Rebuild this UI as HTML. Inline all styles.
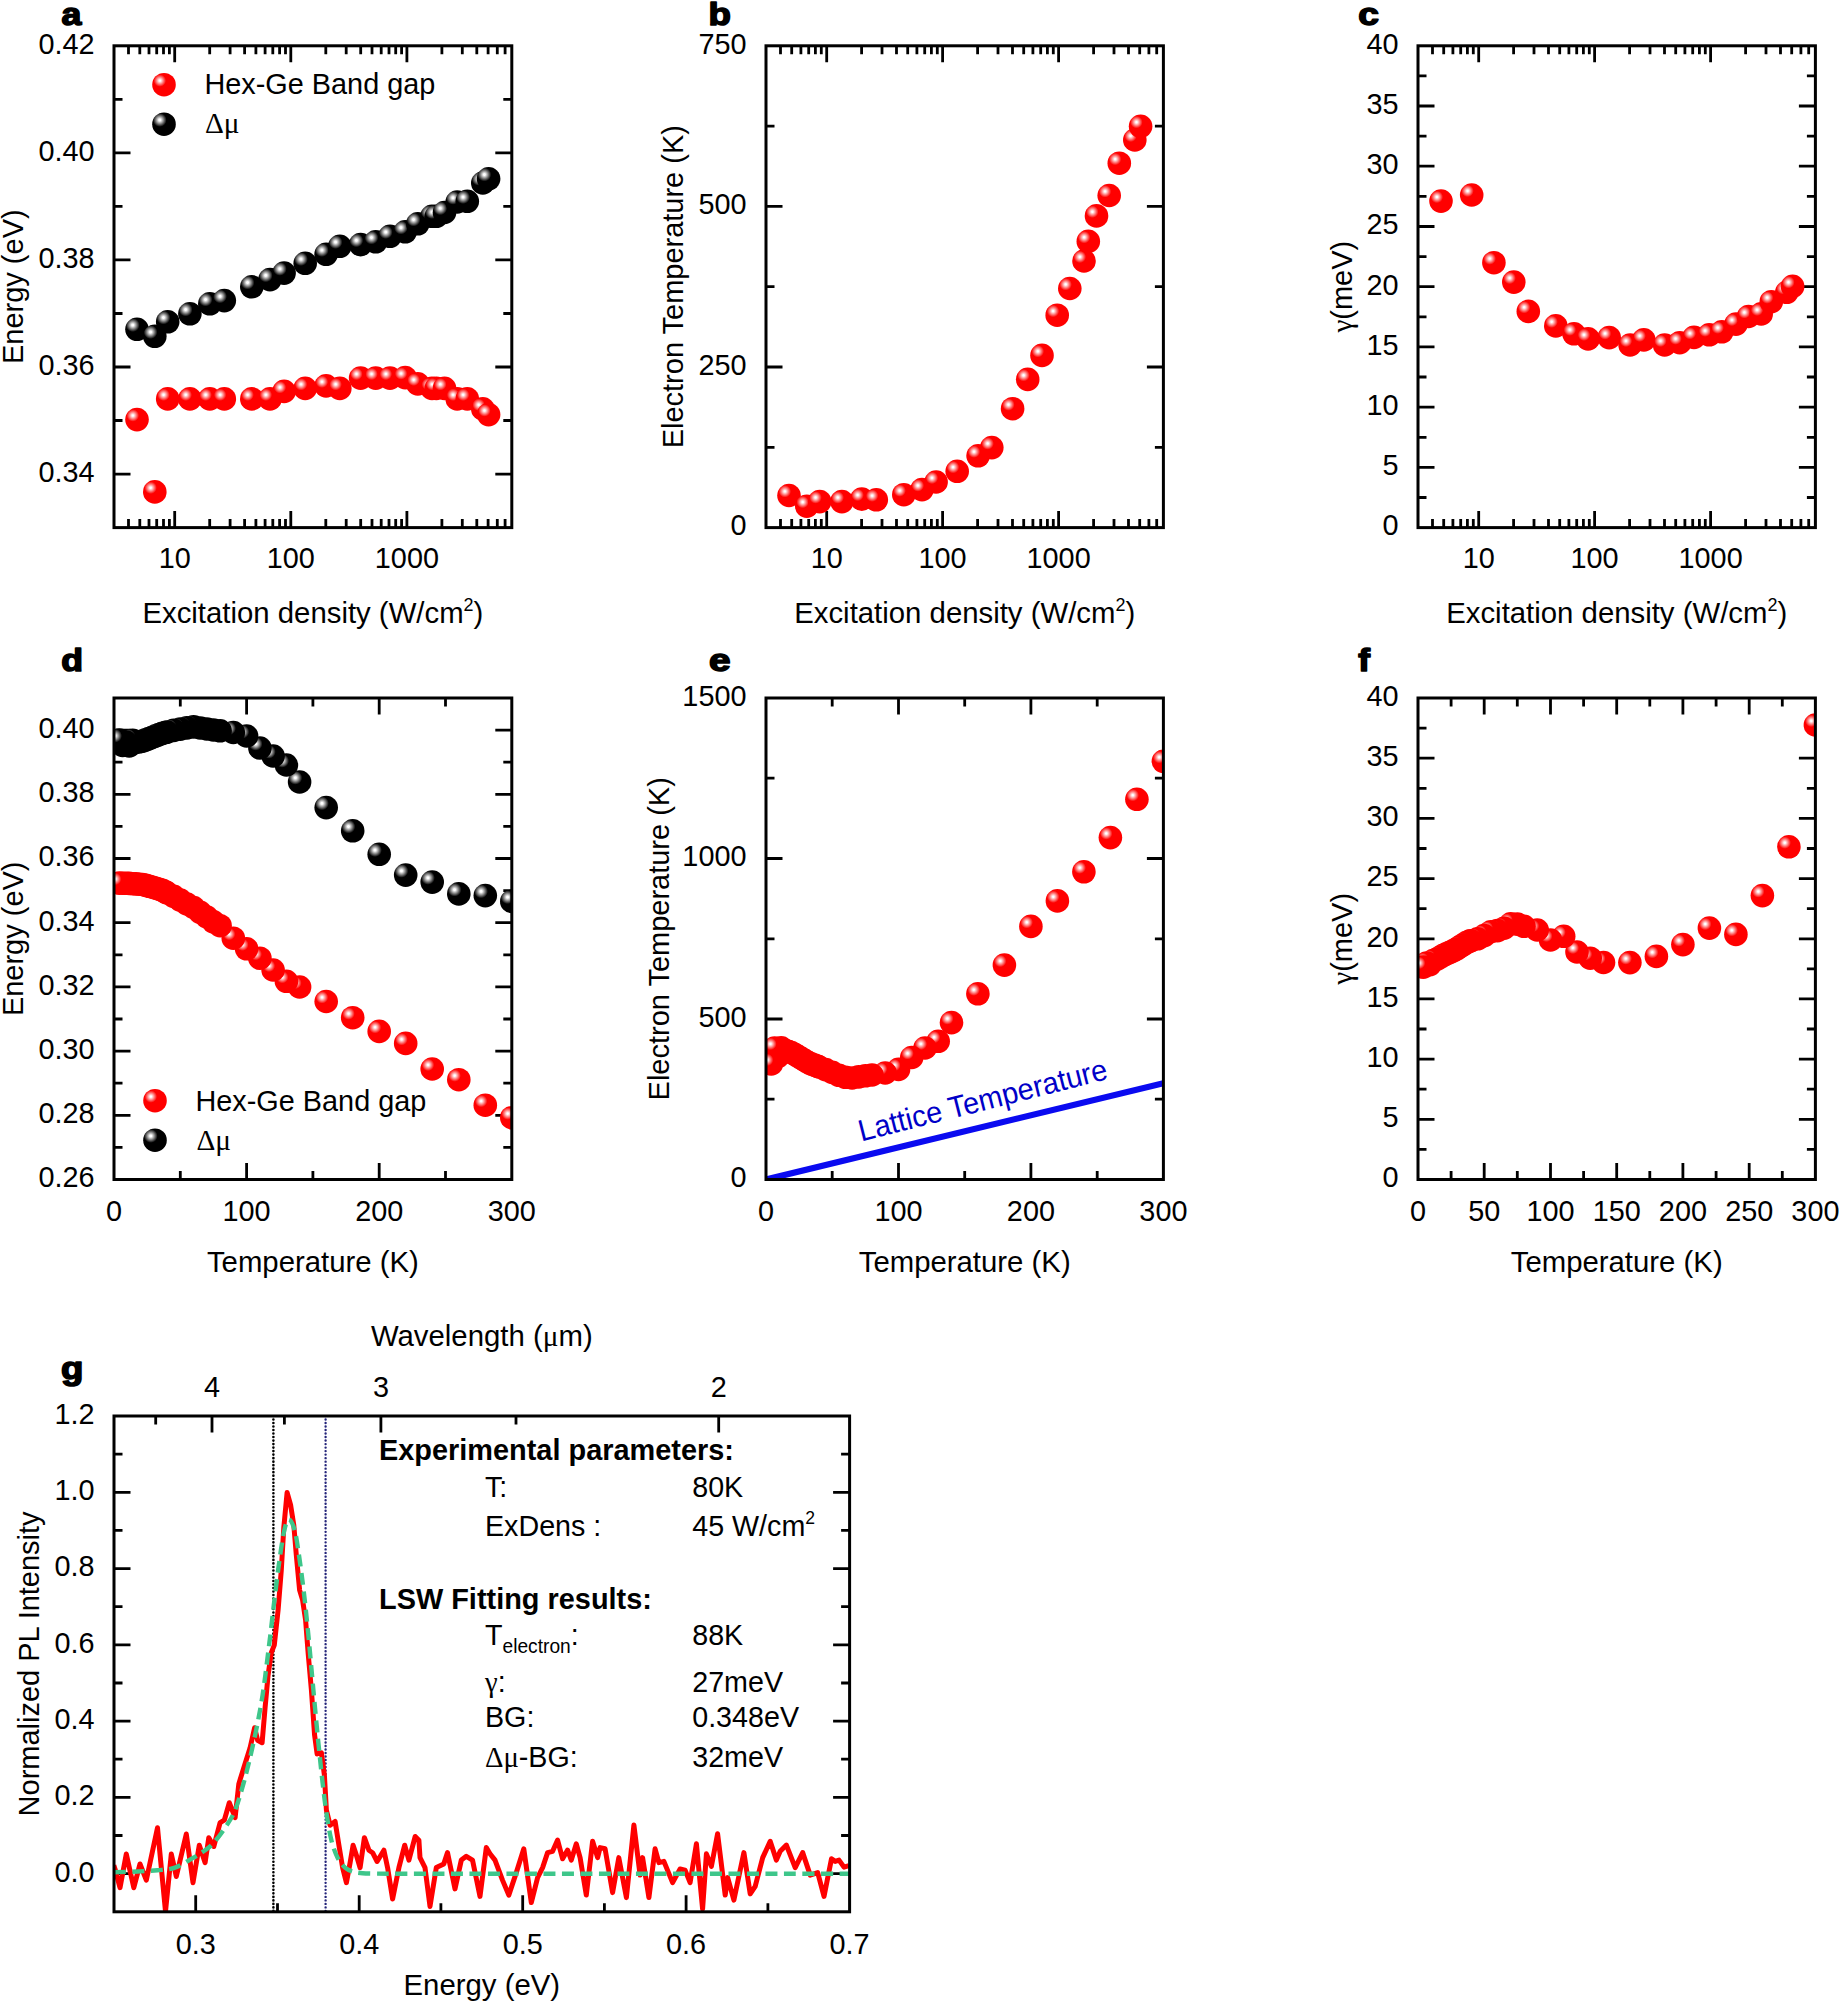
<!DOCTYPE html>
<html lang="en"><head><meta charset="utf-8"><title>Figure</title>
<style>html,body{margin:0;padding:0;background:#fff}svg{display:block}text{font-family:"Liberation Sans",Arial,Helvetica,sans-serif;font-size:30.2px;fill:#000}.sy{font-family:"Liberation Serif","DejaVu Serif",serif}.pl{font-family:"Liberation Sans",Arial,sans-serif;font-weight:bold;stroke:#000;stroke-width:1.5px;stroke-linejoin:round}</style></head><body>
<svg width="1839" height="2003" viewBox="0 0 1839 2003">
<defs><radialGradient id="rs" cx="0.325" cy="0.325" r="0.26"><stop offset="0" stop-color="#fff"/><stop offset="0.12" stop-color="#fff"/><stop offset="1" stop-color="#ff0000"/></radialGradient><radialGradient id="bs" cx="0.32" cy="0.32" r="0.29"><stop offset="0" stop-color="#fff"/><stop offset="0.14" stop-color="#fff"/><stop offset="1" stop-color="#000"/></radialGradient>
<clipPath id="c20"><rect x="114" y="698" width="397.8" height="481.5"/></clipPath>
<clipPath id="c21"><rect x="766" y="698" width="397.4" height="481.5"/></clipPath>
<clipPath id="c22"><rect x="1418" y="698" width="397.4" height="481.5"/></clipPath>
<clipPath id="cg"><rect x="114" y="1416" width="735.6" height="495.8"/></clipPath>
</defs>
<rect width="1839" height="2003" fill="#fff"/>
<path d="M174.7 527.6L174.7 511.1M174.7 45.8L174.7 62.3M290.8 527.6L290.8 511.1M290.8 45.8L290.8 62.3M406.9 527.6L406.9 511.1M406.9 45.8L406.9 62.3M128.5 527.6L128.5 519.1M128.5 45.8L128.5 54.3M139.8 527.6L139.8 519.1M139.8 45.8L139.8 54.3M149 527.6L149 519.1M149 45.8L149 54.3M156.7 527.6L156.7 519.1M156.7 45.8L156.7 54.3M163.5 527.6L163.5 519.1M163.5 45.8L163.5 54.3M169.4 527.6L169.4 519.1M169.4 45.8L169.4 54.3M209.7 527.6L209.7 519.1M209.7 45.8L209.7 54.3M230.1 527.6L230.1 519.1M230.1 45.8L230.1 54.3M244.6 527.6L244.6 519.1M244.6 45.8L244.6 54.3M255.9 527.6L255.9 519.1M255.9 45.8L255.9 54.3M265.1 527.6L265.1 519.1M265.1 45.8L265.1 54.3M272.8 527.6L272.8 519.1M272.8 45.8L272.8 54.3M279.6 527.6L279.6 519.1M279.6 45.8L279.6 54.3M285.5 527.6L285.5 519.1M285.5 45.8L285.5 54.3M325.8 527.6L325.8 519.1M325.8 45.8L325.8 54.3M346.2 527.6L346.2 519.1M346.2 45.8L346.2 54.3M360.7 527.6L360.7 519.1M360.7 45.8L360.7 54.3M372 527.6L372 519.1M372 45.8L372 54.3M381.2 527.6L381.2 519.1M381.2 45.8L381.2 54.3M389 527.6L389 519.1M389 45.8L389 54.3M395.7 527.6L395.7 519.1M395.7 45.8L395.7 54.3M401.6 527.6L401.6 519.1M401.6 45.8L401.6 54.3M441.9 527.6L441.9 519.1M441.9 45.8L441.9 54.3M462.3 527.6L462.3 519.1M462.3 45.8L462.3 54.3M476.8 527.6L476.8 519.1M476.8 45.8L476.8 54.3M488.1 527.6L488.1 519.1M488.1 45.8L488.1 54.3M497.3 527.6L497.3 519.1M497.3 45.8L497.3 54.3M505.1 527.6L505.1 519.1M505.1 45.8L505.1 54.3" stroke="#000" stroke-width="2.8" fill="none"/>
<path d="M114 474.1L130.5 474.1M511.8 474.1L495.3 474.1M114 367L130.5 367M511.8 367L495.3 367M114 259.9L130.5 259.9M511.8 259.9L495.3 259.9M114 152.9L130.5 152.9M511.8 152.9L495.3 152.9M114 420.5L122.5 420.5M511.8 420.5L503.3 420.5M114 313.5L122.5 313.5M511.8 313.5L503.3 313.5M114 206.4L122.5 206.4M511.8 206.4L503.3 206.4M114 99.3L122.5 99.3M511.8 99.3L503.3 99.3" stroke="#000" stroke-width="2.8" fill="none"/>
<text transform="translate(94.5 481.9) scale(0.955 1)" text-anchor="end">0.34</text>
<text transform="translate(94.5 374.8) scale(0.955 1)" text-anchor="end">0.36</text>
<text transform="translate(94.5 267.7) scale(0.955 1)" text-anchor="end">0.38</text>
<text transform="translate(94.5 160.7) scale(0.955 1)" text-anchor="end">0.40</text>
<text transform="translate(94.5 53.6) scale(0.955 1)" text-anchor="end">0.42</text>
<text transform="translate(22.5 286.7) rotate(-90) scale(0.954 1)" text-anchor="middle" style="font-size:30.4px">Energy (eV)</text>
<g fill="url(#bs)">
<circle cx="137" cy="329.3" r="11.8"/><circle cx="154.8" cy="336.3" r="11.8"/><circle cx="167.7" cy="321.8" r="11.8"/><circle cx="189.9" cy="313.8" r="11.8"/><circle cx="209.8" cy="303.8" r="11.8"/><circle cx="224.3" cy="300.6" r="11.8"/><circle cx="251.8" cy="286.8" r="11.8"/><circle cx="270" cy="279.6" r="11.8"/><circle cx="284.1" cy="273.1" r="11.8"/><circle cx="305.2" cy="263.3" r="11.8"/><circle cx="326.1" cy="254.3" r="11.8"/><circle cx="339.8" cy="246.3" r="11.8"/><circle cx="360.6" cy="244.6" r="11.8"/><circle cx="375.7" cy="241.8" r="11.8"/><circle cx="390" cy="236.3" r="11.8"/><circle cx="405.2" cy="231.8" r="11.8"/><circle cx="417.8" cy="223.8" r="11.8"/><circle cx="432" cy="216.3" r="11.8"/><circle cx="436.3" cy="216.3" r="11.8"/><circle cx="444.5" cy="212.5" r="11.8"/><circle cx="457.2" cy="202" r="11.8"/><circle cx="467.3" cy="201.3" r="11.8"/><circle cx="482.8" cy="183" r="11.8"/><circle cx="488.6" cy="178.8" r="11.8"/>
</g>
<g fill="url(#rs)">
<circle cx="137" cy="419.6" r="11.8"/><circle cx="154.8" cy="491.9" r="11.8"/><circle cx="167.7" cy="398.9" r="11.8"/><circle cx="189.9" cy="398.9" r="11.8"/><circle cx="209.8" cy="398.9" r="11.8"/><circle cx="224.3" cy="398.9" r="11.8"/><circle cx="251.8" cy="398.9" r="11.8"/><circle cx="270" cy="398.9" r="11.8"/><circle cx="284.1" cy="391.4" r="11.8"/><circle cx="305.2" cy="388.4" r="11.8"/><circle cx="326.1" cy="385.9" r="11.8"/><circle cx="339.8" cy="388.4" r="11.8"/><circle cx="360.6" cy="378.1" r="11.8"/><circle cx="375.7" cy="378.1" r="11.8"/><circle cx="390" cy="378.1" r="11.8"/><circle cx="405.2" cy="377.6" r="11.8"/><circle cx="417.8" cy="383.9" r="11.8"/><circle cx="432" cy="388.4" r="11.8"/><circle cx="436.3" cy="388.4" r="11.8"/><circle cx="444.5" cy="388.4" r="11.8"/><circle cx="457.2" cy="398.9" r="11.8"/><circle cx="467.3" cy="398.9" r="11.8"/><circle cx="482.8" cy="408.9" r="11.8"/><circle cx="488.6" cy="414.6" r="11.8"/>
</g>
<rect x="114" y="45.8" width="397.8" height="481.8" fill="none" stroke="#000" stroke-width="3"/>
<text transform="translate(174.7 568.2) scale(0.955 1)" text-anchor="middle">10</text>
<text transform="translate(290.8 568.2) scale(0.955 1)" text-anchor="middle">100</text>
<text transform="translate(406.9 568.2) scale(0.955 1)" text-anchor="middle">1000</text>
<text transform="translate(312.9 622.8) scale(0.972 1)" text-anchor="middle">Excitation density (W/cm<tspan style="font-size:18.5px" dy="-11.5">2</tspan><tspan dy="11.5">)</tspan></text>
<path d="M826.7 527.6L826.7 511.1M826.7 45.8L826.7 62.3M942.6 527.6L942.6 511.1M942.6 45.8L942.6 62.3M1058.6 527.6L1058.6 511.1M1058.6 45.8L1058.6 62.3M780.5 527.6L780.5 519.1M780.5 45.8L780.5 54.3M791.7 527.6L791.7 519.1M791.7 45.8L791.7 54.3M800.9 527.6L800.9 519.1M800.9 45.8L800.9 54.3M808.7 527.6L808.7 519.1M808.7 45.8L808.7 54.3M815.4 527.6L815.4 519.1M815.4 45.8L815.4 54.3M821.3 527.6L821.3 519.1M821.3 45.8L821.3 54.3M861.6 527.6L861.6 519.1M861.6 45.8L861.6 54.3M882 527.6L882 519.1M882 45.8L882 54.3M896.5 527.6L896.5 519.1M896.5 45.8L896.5 54.3M907.7 527.6L907.7 519.1M907.7 45.8L907.7 54.3M916.9 527.6L916.9 519.1M916.9 45.8L916.9 54.3M924.7 527.6L924.7 519.1M924.7 45.8L924.7 54.3M931.4 527.6L931.4 519.1M931.4 45.8L931.4 54.3M937.3 527.6L937.3 519.1M937.3 45.8L937.3 54.3M977.6 527.6L977.6 519.1M977.6 45.8L977.6 54.3M998 527.6L998 519.1M998 45.8L998 54.3M1012.5 527.6L1012.5 519.1M1012.5 45.8L1012.5 54.3M1023.7 527.6L1023.7 519.1M1023.7 45.8L1023.7 54.3M1032.9 527.6L1032.9 519.1M1032.9 45.8L1032.9 54.3M1040.7 527.6L1040.7 519.1M1040.7 45.8L1040.7 54.3M1047.4 527.6L1047.4 519.1M1047.4 45.8L1047.4 54.3M1053.3 527.6L1053.3 519.1M1053.3 45.8L1053.3 54.3M1093.6 527.6L1093.6 519.1M1093.6 45.8L1093.6 54.3M1114 527.6L1114 519.1M1114 45.8L1114 54.3M1128.5 527.6L1128.5 519.1M1128.5 45.8L1128.5 54.3M1139.7 527.6L1139.7 519.1M1139.7 45.8L1139.7 54.3M1148.9 527.6L1148.9 519.1M1148.9 45.8L1148.9 54.3M1156.7 527.6L1156.7 519.1M1156.7 45.8L1156.7 54.3" stroke="#000" stroke-width="2.8" fill="none"/>
<path d="M766 367L782.5 367M1163.4 367L1146.9 367M766 206.4L782.5 206.4M1163.4 206.4L1146.9 206.4M766 447.3L774.5 447.3M1163.4 447.3L1154.9 447.3M766 286.7L774.5 286.7M1163.4 286.7L1154.9 286.7M766 126.1L774.5 126.1M1163.4 126.1L1154.9 126.1" stroke="#000" stroke-width="2.8" fill="none"/>
<text transform="translate(746.5 535.4) scale(0.955 1)" text-anchor="end">0</text>
<text transform="translate(746.5 374.8) scale(0.955 1)" text-anchor="end">250</text>
<text transform="translate(746.5 214.2) scale(0.955 1)" text-anchor="end">500</text>
<text transform="translate(746.5 53.6) scale(0.955 1)" text-anchor="end">750</text>
<text transform="translate(682.5 286.7) rotate(-90) scale(0.954 1)" text-anchor="middle" style="font-size:30.4px">Electron Temperature (K)</text>
<g fill="url(#rs)">
<circle cx="789" cy="495.5" r="11.8"/><circle cx="806.8" cy="506.2" r="11.8"/><circle cx="819.7" cy="501.6" r="11.8"/><circle cx="841.9" cy="501.6" r="11.8"/><circle cx="861.8" cy="499.1" r="11.8"/><circle cx="876.3" cy="499.8" r="11.8"/><circle cx="903.8" cy="494.7" r="11.8"/><circle cx="922" cy="489.6" r="11.8"/><circle cx="936.1" cy="482" r="11.8"/><circle cx="957.2" cy="471.3" r="11.8"/><circle cx="978.1" cy="455.8" r="11.8"/><circle cx="991.8" cy="447.6" r="11.8"/><circle cx="1012.6" cy="408.7" r="11.8"/><circle cx="1027.7" cy="379.4" r="11.8"/><circle cx="1042" cy="355.4" r="11.8"/><circle cx="1057.2" cy="315.2" r="11.8"/><circle cx="1069.8" cy="288.5" r="11.8"/><circle cx="1084" cy="261" r="11.8"/><circle cx="1088.3" cy="241.4" r="11.8"/><circle cx="1096.5" cy="215.9" r="11.8"/><circle cx="1109.2" cy="195.5" r="11.8"/><circle cx="1119.3" cy="163.2" r="11.8"/><circle cx="1134.8" cy="140" r="11.8"/><circle cx="1140.6" cy="126.3" r="11.8"/>
</g>
<rect x="766" y="45.8" width="397.4" height="481.8" fill="none" stroke="#000" stroke-width="3"/>
<text transform="translate(826.7 568.2) scale(0.955 1)" text-anchor="middle">10</text>
<text transform="translate(942.6 568.2) scale(0.955 1)" text-anchor="middle">100</text>
<text transform="translate(1058.6 568.2) scale(0.955 1)" text-anchor="middle">1000</text>
<text transform="translate(964.7 622.8) scale(0.972 1)" text-anchor="middle">Excitation density (W/cm<tspan style="font-size:18.5px" dy="-11.5">2</tspan><tspan dy="11.5">)</tspan></text>
<path d="M1478.7 527.6L1478.7 511.1M1478.7 45.8L1478.7 62.3M1594.6 527.6L1594.6 511.1M1594.6 45.8L1594.6 62.3M1710.6 527.6L1710.6 511.1M1710.6 45.8L1710.6 62.3M1432.5 527.6L1432.5 519.1M1432.5 45.8L1432.5 54.3M1443.7 527.6L1443.7 519.1M1443.7 45.8L1443.7 54.3M1452.9 527.6L1452.9 519.1M1452.9 45.8L1452.9 54.3M1460.7 527.6L1460.7 519.1M1460.7 45.8L1460.7 54.3M1467.4 527.6L1467.4 519.1M1467.4 45.8L1467.4 54.3M1473.3 527.6L1473.3 519.1M1473.3 45.8L1473.3 54.3M1513.6 527.6L1513.6 519.1M1513.6 45.8L1513.6 54.3M1534 527.6L1534 519.1M1534 45.8L1534 54.3M1548.5 527.6L1548.5 519.1M1548.5 45.8L1548.5 54.3M1559.7 527.6L1559.7 519.1M1559.7 45.8L1559.7 54.3M1568.9 527.6L1568.9 519.1M1568.9 45.8L1568.9 54.3M1576.7 527.6L1576.7 519.1M1576.7 45.8L1576.7 54.3M1583.4 527.6L1583.4 519.1M1583.4 45.8L1583.4 54.3M1589.3 527.6L1589.3 519.1M1589.3 45.8L1589.3 54.3M1629.6 527.6L1629.6 519.1M1629.6 45.8L1629.6 54.3M1650 527.6L1650 519.1M1650 45.8L1650 54.3M1664.5 527.6L1664.5 519.1M1664.5 45.8L1664.5 54.3M1675.7 527.6L1675.7 519.1M1675.7 45.8L1675.7 54.3M1684.9 527.6L1684.9 519.1M1684.9 45.8L1684.9 54.3M1692.7 527.6L1692.7 519.1M1692.7 45.8L1692.7 54.3M1699.4 527.6L1699.4 519.1M1699.4 45.8L1699.4 54.3M1705.3 527.6L1705.3 519.1M1705.3 45.8L1705.3 54.3M1745.6 527.6L1745.6 519.1M1745.6 45.8L1745.6 54.3M1766 527.6L1766 519.1M1766 45.8L1766 54.3M1780.5 527.6L1780.5 519.1M1780.5 45.8L1780.5 54.3M1791.7 527.6L1791.7 519.1M1791.7 45.8L1791.7 54.3M1800.9 527.6L1800.9 519.1M1800.9 45.8L1800.9 54.3M1808.7 527.6L1808.7 519.1M1808.7 45.8L1808.7 54.3" stroke="#000" stroke-width="2.8" fill="none"/>
<path d="M1418 467.4L1434.5 467.4M1815.4 467.4L1798.9 467.4M1418 407.2L1434.5 407.2M1815.4 407.2L1798.9 407.2M1418 346.9L1434.5 346.9M1815.4 346.9L1798.9 346.9M1418 286.7L1434.5 286.7M1815.4 286.7L1798.9 286.7M1418 226.5L1434.5 226.5M1815.4 226.5L1798.9 226.5M1418 166.2L1434.5 166.2M1815.4 166.2L1798.9 166.2M1418 106L1434.5 106M1815.4 106L1798.9 106M1418 497.5L1426.5 497.5M1815.4 497.5L1806.9 497.5M1418 437.3L1426.5 437.3M1815.4 437.3L1806.9 437.3M1418 377L1426.5 377M1815.4 377L1806.9 377M1418 316.8L1426.5 316.8M1815.4 316.8L1806.9 316.8M1418 256.6L1426.5 256.6M1815.4 256.6L1806.9 256.6M1418 196.4L1426.5 196.4M1815.4 196.4L1806.9 196.4M1418 136.1L1426.5 136.1M1815.4 136.1L1806.9 136.1M1418 75.9L1426.5 75.9M1815.4 75.9L1806.9 75.9" stroke="#000" stroke-width="2.8" fill="none"/>
<text transform="translate(1398.5 535.4) scale(0.955 1)" text-anchor="end">0</text>
<text transform="translate(1398.5 475.2) scale(0.955 1)" text-anchor="end">5</text>
<text transform="translate(1398.5 415) scale(0.955 1)" text-anchor="end">10</text>
<text transform="translate(1398.5 354.7) scale(0.955 1)" text-anchor="end">15</text>
<text transform="translate(1398.5 294.5) scale(0.955 1)" text-anchor="end">20</text>
<text transform="translate(1398.5 234.3) scale(0.955 1)" text-anchor="end">25</text>
<text transform="translate(1398.5 174.1) scale(0.955 1)" text-anchor="end">30</text>
<text transform="translate(1398.5 113.8) scale(0.955 1)" text-anchor="end">35</text>
<text transform="translate(1398.5 53.6) scale(0.955 1)" text-anchor="end">40</text>
<text transform="translate(1351.5 286.7) rotate(-90) scale(0.954 1)" text-anchor="middle" style="font-size:30.4px"><tspan class="sy">γ</tspan>(meV)</text>
<g fill="url(#rs)">
<circle cx="1441" cy="201.1" r="11.8"/><circle cx="1471.7" cy="195" r="11.8"/><circle cx="1493.9" cy="262.7" r="11.8"/><circle cx="1513.8" cy="282.1" r="11.8"/><circle cx="1528.3" cy="311.4" r="11.8"/><circle cx="1555.8" cy="325.9" r="11.8"/><circle cx="1574" cy="333.8" r="11.8"/><circle cx="1588.1" cy="338.9" r="11.8"/><circle cx="1609.2" cy="337.6" r="11.8"/><circle cx="1630.1" cy="345" r="11.8"/><circle cx="1643.8" cy="339.9" r="11.8"/><circle cx="1664.6" cy="345" r="11.8"/><circle cx="1679.7" cy="342.7" r="11.8"/><circle cx="1694" cy="337.4" r="11.8"/><circle cx="1709.2" cy="334.8" r="11.8"/><circle cx="1721.8" cy="331.8" r="11.8"/><circle cx="1736" cy="324.1" r="11.8"/><circle cx="1748.5" cy="316.5" r="11.8"/><circle cx="1761.2" cy="313.9" r="11.8"/><circle cx="1771.3" cy="301.7" r="11.8"/><circle cx="1786.8" cy="292.3" r="11.8"/><circle cx="1792.6" cy="286.4" r="11.8"/>
</g>
<rect x="1418" y="45.8" width="397.4" height="481.8" fill="none" stroke="#000" stroke-width="3"/>
<text transform="translate(1478.7 568.2) scale(0.955 1)" text-anchor="middle">10</text>
<text transform="translate(1594.6 568.2) scale(0.955 1)" text-anchor="middle">100</text>
<text transform="translate(1710.6 568.2) scale(0.955 1)" text-anchor="middle">1000</text>
<text transform="translate(1616.7 622.8) scale(0.972 1)" text-anchor="middle">Excitation density (W/cm<tspan style="font-size:18.5px" dy="-11.5">2</tspan><tspan dy="11.5">)</tspan></text>
<g fill="url(#rs)">
<circle cx="164" cy="84.7" r="11.8"/>
</g>
<g fill="url(#bs)">
<circle cx="164" cy="124.2" r="11.8"/>
</g>
<text transform="translate(204.5 94) scale(0.955 1)">Hex-Ge Band gap</text>
<text transform="translate(205 133) scale(0.972 1)"><tspan class="sy">Δμ</tspan></text>
<path d="M246.6 1179.5L246.6 1163M246.6 698L246.6 714.5M379.2 1179.5L379.2 1163M379.2 698L379.2 714.5M180.3 1179.5L180.3 1171M180.3 698L180.3 706.5M312.9 1179.5L312.9 1171M312.9 698L312.9 706.5M445.5 1179.5L445.5 1171M445.5 698L445.5 706.5" stroke="#000" stroke-width="2.8" fill="none"/>
<text transform="translate(114 1221) scale(0.955 1)" text-anchor="middle">0</text>
<text transform="translate(246.6 1221) scale(0.955 1)" text-anchor="middle">100</text>
<text transform="translate(379.2 1221) scale(0.955 1)" text-anchor="middle">200</text>
<text transform="translate(511.8 1221) scale(0.955 1)" text-anchor="middle">300</text>
<path d="M114 1115.3L130.5 1115.3M511.8 1115.3L495.3 1115.3M114 1051.1L130.5 1051.1M511.8 1051.1L495.3 1051.1M114 986.9L130.5 986.9M511.8 986.9L495.3 986.9M114 922.7L130.5 922.7M511.8 922.7L495.3 922.7M114 858.5L130.5 858.5M511.8 858.5L495.3 858.5M114 794.3L130.5 794.3M511.8 794.3L495.3 794.3M114 730.1L130.5 730.1M511.8 730.1L495.3 730.1M114 1147.4L122.5 1147.4M511.8 1147.4L503.3 1147.4M114 1083.2L122.5 1083.2M511.8 1083.2L503.3 1083.2M114 1019L122.5 1019M511.8 1019L503.3 1019M114 954.8L122.5 954.8M511.8 954.8L503.3 954.8M114 890.6L122.5 890.6M511.8 890.6L503.3 890.6M114 826.4L122.5 826.4M511.8 826.4L503.3 826.4M114 762.2L122.5 762.2M511.8 762.2L503.3 762.2" stroke="#000" stroke-width="2.8" fill="none"/>
<text transform="translate(94.5 1187.3) scale(0.955 1)" text-anchor="end">0.26</text>
<text transform="translate(94.5 1123.1) scale(0.955 1)" text-anchor="end">0.28</text>
<text transform="translate(94.5 1058.9) scale(0.955 1)" text-anchor="end">0.30</text>
<text transform="translate(94.5 994.7) scale(0.955 1)" text-anchor="end">0.32</text>
<text transform="translate(94.5 930.5) scale(0.955 1)" text-anchor="end">0.34</text>
<text transform="translate(94.5 866.3) scale(0.955 1)" text-anchor="end">0.36</text>
<text transform="translate(94.5 802.1) scale(0.955 1)" text-anchor="end">0.38</text>
<text transform="translate(94.5 737.9) scale(0.955 1)" text-anchor="end">0.40</text>
<text transform="translate(22.5 938.8) rotate(-90) scale(0.954 1)" text-anchor="middle" style="font-size:30.4px">Energy (eV)</text>
<g fill="url(#rs)">
<circle cx="155" cy="1100.7" r="11.8"/>
</g>
<g fill="url(#bs)">
<circle cx="155" cy="1140.2" r="11.8"/>
</g>
<text transform="translate(195.5 1111) scale(0.955 1)">Hex-Ge Band gap</text>
<text transform="translate(196.5 1149.7) scale(0.972 1)"><tspan class="sy">Δμ</tspan></text>
<g clip-path="url(#c20)">
<g fill="url(#bs)">
<circle cx="511.8" cy="901.4" r="11.8"/><circle cx="485.3" cy="895.6" r="11.8"/><circle cx="458.8" cy="893.9" r="11.8"/><circle cx="432.2" cy="882.1" r="11.8"/><circle cx="405.7" cy="875.1" r="11.8"/><circle cx="379.2" cy="854.3" r="11.8"/><circle cx="352.7" cy="830.8" r="11.8"/><circle cx="326.2" cy="807.6" r="11.8"/><circle cx="299.6" cy="782" r="11.8"/><circle cx="286.4" cy="765" r="11.8"/><circle cx="273.1" cy="756" r="11.8"/><circle cx="259.9" cy="748" r="11.8"/><circle cx="246.6" cy="736" r="11.8"/><circle cx="233.3" cy="732.5" r="11.8"/><circle cx="220.1" cy="730.8" r="11.8"/><circle cx="213.4" cy="730" r="11.8"/><circle cx="206.8" cy="729" r="11.8"/><circle cx="200.2" cy="728" r="11.8"/><circle cx="193.6" cy="726.9" r="11.8"/><circle cx="186.9" cy="727.9" r="11.8"/><circle cx="180.3" cy="729.1" r="11.8"/><circle cx="173.7" cy="730.4" r="11.8"/><circle cx="167" cy="732.1" r="11.8"/><circle cx="165.7" cy="732.5" r="11.8"/><circle cx="162.4" cy="733.3" r="11.8"/><circle cx="159.1" cy="734.6" r="11.8"/><circle cx="155.8" cy="735.9" r="11.8"/><circle cx="152.5" cy="737.2" r="11.8"/><circle cx="149.1" cy="738.6" r="11.8"/><circle cx="145.8" cy="739.9" r="11.8"/><circle cx="142.5" cy="741.1" r="11.8"/><circle cx="139.2" cy="741.8" r="11.8"/><circle cx="135.9" cy="742.4" r="11.8"/><circle cx="132.6" cy="740.2" r="11.8"/><circle cx="129.2" cy="746" r="11.8"/><circle cx="125.9" cy="742" r="11.8"/><circle cx="122.6" cy="745.5" r="11.8"/><circle cx="119.3" cy="740" r="11.8"/>
</g>
<g fill="url(#rs)">
<circle cx="511.8" cy="1117.7" r="11.8"/><circle cx="485.3" cy="1105.2" r="11.8"/><circle cx="458.8" cy="1079.7" r="11.8"/><circle cx="432.2" cy="1069" r="11.8"/><circle cx="405.7" cy="1043.4" r="11.8"/><circle cx="379.2" cy="1031.4" r="11.8"/><circle cx="352.7" cy="1017.7" r="11.8"/><circle cx="326.2" cy="1001.5" r="11.8"/><circle cx="299.6" cy="987" r="11.8"/><circle cx="286.4" cy="981.3" r="11.8"/><circle cx="273.1" cy="970" r="11.8"/><circle cx="259.9" cy="958.2" r="11.8"/><circle cx="246.6" cy="948.8" r="11.8"/><circle cx="233.3" cy="938.2" r="11.8"/><circle cx="220.1" cy="925.7" r="11.8"/><circle cx="213.4" cy="921.8" r="11.8"/><circle cx="206.8" cy="917" r="11.8"/><circle cx="200.2" cy="912.4" r="11.8"/><circle cx="193.6" cy="907.5" r="11.8"/><circle cx="186.9" cy="904" r="11.8"/><circle cx="180.3" cy="900.1" r="11.8"/><circle cx="173.7" cy="896.3" r="11.8"/><circle cx="167" cy="892.8" r="11.8"/><circle cx="165.7" cy="892.1" r="11.8"/><circle cx="162.4" cy="890.4" r="11.8"/><circle cx="159.1" cy="889.2" r="11.8"/><circle cx="155.8" cy="888.2" r="11.8"/><circle cx="152.5" cy="887.2" r="11.8"/><circle cx="149.1" cy="886.3" r="11.8"/><circle cx="145.8" cy="885.3" r="11.8"/><circle cx="142.5" cy="884.5" r="11.8"/><circle cx="139.2" cy="884.2" r="11.8"/><circle cx="135.9" cy="883.9" r="11.8"/><circle cx="132.6" cy="883.7" r="11.8"/><circle cx="129.2" cy="883.4" r="11.8"/><circle cx="125.9" cy="883.3" r="11.8"/><circle cx="122.6" cy="883.2" r="11.8"/><circle cx="119.3" cy="883.1" r="11.8"/>
</g>
</g>
<rect x="114" y="698" width="397.8" height="481.5" fill="none" stroke="#000" stroke-width="3"/>
<text transform="translate(312.9 1272) scale(0.972 1)" text-anchor="middle">Temperature (K)</text>
<path d="M898.5 1179.5L898.5 1163M898.5 698L898.5 714.5M1030.9 1179.5L1030.9 1163M1030.9 698L1030.9 714.5M832.2 1179.5L832.2 1171M832.2 698L832.2 706.5M964.7 1179.5L964.7 1171M964.7 698L964.7 706.5M1097.2 1179.5L1097.2 1171M1097.2 698L1097.2 706.5" stroke="#000" stroke-width="2.8" fill="none"/>
<text transform="translate(766 1221) scale(0.955 1)" text-anchor="middle">0</text>
<text transform="translate(898.5 1221) scale(0.955 1)" text-anchor="middle">100</text>
<text transform="translate(1030.9 1221) scale(0.955 1)" text-anchor="middle">200</text>
<text transform="translate(1163.4 1221) scale(0.955 1)" text-anchor="middle">300</text>
<path d="M766 1019L782.5 1019M1163.4 1019L1146.9 1019M766 858.5L782.5 858.5M1163.4 858.5L1146.9 858.5M766 1099.2L774.5 1099.2M1163.4 1099.2L1154.9 1099.2M766 938.8L774.5 938.8M1163.4 938.8L1154.9 938.8M766 778.2L774.5 778.2M1163.4 778.2L1154.9 778.2" stroke="#000" stroke-width="2.8" fill="none"/>
<text transform="translate(746.5 1187.3) scale(0.955 1)" text-anchor="end">0</text>
<text transform="translate(746.5 1026.8) scale(0.955 1)" text-anchor="end">500</text>
<text transform="translate(746.5 866.3) scale(0.955 1)" text-anchor="end">1000</text>
<text transform="translate(746.5 705.8) scale(0.955 1)" text-anchor="end">1500</text>
<text transform="translate(669.4 938.8) rotate(-90) scale(0.954 1)" text-anchor="middle" style="font-size:30.4px">Electron Temperature (K)</text>
<text transform="translate(861.3 1141.5) rotate(-14.2) scale(0.954 1)" style="font-size:30.4px;fill:#0000c8">Lattice Temperature</text>
<g clip-path="url(#c21)">
<g fill="url(#rs)">
<circle cx="1163.4" cy="761.3" r="11.8"/><circle cx="1136.9" cy="799.3" r="11.8"/><circle cx="1110.4" cy="837.6" r="11.8"/><circle cx="1083.9" cy="871.8" r="11.8"/><circle cx="1057.4" cy="900.9" r="11.8"/><circle cx="1030.9" cy="926.4" r="11.8"/><circle cx="1004.4" cy="965.1" r="11.8"/><circle cx="977.9" cy="993.8" r="11.8"/><circle cx="951.5" cy="1022.6" r="11.8"/><circle cx="938.2" cy="1041.3" r="11.8"/><circle cx="925" cy="1048" r="11.8"/><circle cx="911.7" cy="1057.5" r="11.8"/><circle cx="898.5" cy="1069.4" r="11.8"/><circle cx="885.2" cy="1073" r="11.8"/><circle cx="872" cy="1075" r="11.8"/><circle cx="865.4" cy="1075.8" r="11.8"/><circle cx="858.7" cy="1076.9" r="11.8"/><circle cx="852.1" cy="1078" r="11.8"/><circle cx="845.5" cy="1077.3" r="11.8"/><circle cx="838.9" cy="1075.3" r="11.8"/><circle cx="832.2" cy="1072.4" r="11.8"/><circle cx="825.6" cy="1069.6" r="11.8"/><circle cx="819" cy="1067" r="11.8"/><circle cx="817.7" cy="1066.4" r="11.8"/><circle cx="814.4" cy="1065.1" r="11.8"/><circle cx="811" cy="1063.8" r="11.8"/><circle cx="807.7" cy="1062.2" r="11.8"/><circle cx="804.4" cy="1060.2" r="11.8"/><circle cx="801.1" cy="1058.2" r="11.8"/><circle cx="797.8" cy="1056.2" r="11.8"/><circle cx="794.5" cy="1054.2" r="11.8"/><circle cx="791.2" cy="1052.5" r="11.8"/><circle cx="787.9" cy="1051.4" r="11.8"/><circle cx="784.5" cy="1050.2" r="11.8"/><circle cx="781.2" cy="1047.8" r="11.8"/><circle cx="777.9" cy="1056.6" r="11.8"/><circle cx="774.6" cy="1048" r="11.8"/><circle cx="771.3" cy="1064" r="11.8"/>
</g>
<line x1="766" y1="1179.5" x2="1163.4" y2="1083.2" stroke="#0a0af0" stroke-width="6.2"/>
</g>
<rect x="766" y="698" width="397.4" height="481.5" fill="none" stroke="#000" stroke-width="3"/>
<text transform="translate(964.7 1272) scale(0.972 1)" text-anchor="middle">Temperature (K)</text>
<path d="M1484.2 1179.5L1484.2 1163M1484.2 698L1484.2 714.5M1550.5 1179.5L1550.5 1163M1550.5 698L1550.5 714.5M1616.7 1179.5L1616.7 1163M1616.7 698L1616.7 714.5M1682.9 1179.5L1682.9 1163M1682.9 698L1682.9 714.5M1749.2 1179.5L1749.2 1163M1749.2 698L1749.2 714.5M1451.1 1179.5L1451.1 1171M1451.1 698L1451.1 706.5M1517.3 1179.5L1517.3 1171M1517.3 698L1517.3 706.5M1583.6 1179.5L1583.6 1171M1583.6 698L1583.6 706.5M1649.8 1179.5L1649.8 1171M1649.8 698L1649.8 706.5M1716.1 1179.5L1716.1 1171M1716.1 698L1716.1 706.5M1782.3 1179.5L1782.3 1171M1782.3 698L1782.3 706.5" stroke="#000" stroke-width="2.8" fill="none"/>
<text transform="translate(1418 1221) scale(0.955 1)" text-anchor="middle">0</text>
<text transform="translate(1484.2 1221) scale(0.955 1)" text-anchor="middle">50</text>
<text transform="translate(1550.5 1221) scale(0.955 1)" text-anchor="middle">100</text>
<text transform="translate(1616.7 1221) scale(0.955 1)" text-anchor="middle">150</text>
<text transform="translate(1682.9 1221) scale(0.955 1)" text-anchor="middle">200</text>
<text transform="translate(1749.2 1221) scale(0.955 1)" text-anchor="middle">250</text>
<text transform="translate(1815.4 1221) scale(0.955 1)" text-anchor="middle">300</text>
<path d="M1418 1119.3L1434.5 1119.3M1815.4 1119.3L1798.9 1119.3M1418 1059.1L1434.5 1059.1M1815.4 1059.1L1798.9 1059.1M1418 998.9L1434.5 998.9M1815.4 998.9L1798.9 998.9M1418 938.8L1434.5 938.8M1815.4 938.8L1798.9 938.8M1418 878.6L1434.5 878.6M1815.4 878.6L1798.9 878.6M1418 818.4L1434.5 818.4M1815.4 818.4L1798.9 818.4M1418 758.2L1434.5 758.2M1815.4 758.2L1798.9 758.2M1418 1149.4L1426.5 1149.4M1815.4 1149.4L1806.9 1149.4M1418 1089.2L1426.5 1089.2M1815.4 1089.2L1806.9 1089.2M1418 1029L1426.5 1029M1815.4 1029L1806.9 1029M1418 968.8L1426.5 968.8M1815.4 968.8L1806.9 968.8M1418 908.7L1426.5 908.7M1815.4 908.7L1806.9 908.7M1418 848.5L1426.5 848.5M1815.4 848.5L1806.9 848.5M1418 788.3L1426.5 788.3M1815.4 788.3L1806.9 788.3M1418 728.1L1426.5 728.1M1815.4 728.1L1806.9 728.1" stroke="#000" stroke-width="2.8" fill="none"/>
<text transform="translate(1398.5 1187.3) scale(0.955 1)" text-anchor="end">0</text>
<text transform="translate(1398.5 1127.1) scale(0.955 1)" text-anchor="end">5</text>
<text transform="translate(1398.5 1066.9) scale(0.955 1)" text-anchor="end">10</text>
<text transform="translate(1398.5 1006.7) scale(0.955 1)" text-anchor="end">15</text>
<text transform="translate(1398.5 946.5) scale(0.955 1)" text-anchor="end">20</text>
<text transform="translate(1398.5 886.4) scale(0.955 1)" text-anchor="end">25</text>
<text transform="translate(1398.5 826.2) scale(0.955 1)" text-anchor="end">30</text>
<text transform="translate(1398.5 766) scale(0.955 1)" text-anchor="end">35</text>
<text transform="translate(1398.5 705.8) scale(0.955 1)" text-anchor="end">40</text>
<text transform="translate(1351.5 938.8) rotate(-90) scale(0.954 1)" text-anchor="middle" style="font-size:30.4px"><tspan class="sy">γ</tspan>(meV)</text>
<g clip-path="url(#c22)">
<g fill="url(#rs)">
<circle cx="1815.4" cy="725" r="11.8"/><circle cx="1788.9" cy="846.8" r="11.8"/><circle cx="1762.4" cy="895.6" r="11.8"/><circle cx="1735.9" cy="934.4" r="11.8"/><circle cx="1709.4" cy="928.1" r="11.8"/><circle cx="1682.9" cy="944.6" r="11.8"/><circle cx="1656.4" cy="956.4" r="11.8"/><circle cx="1629.9" cy="962.6" r="11.8"/><circle cx="1603.5" cy="962.5" r="11.8"/><circle cx="1590.2" cy="958.2" r="11.8"/><circle cx="1577" cy="952" r="11.8"/><circle cx="1563.7" cy="936.3" r="11.8"/><circle cx="1550.5" cy="940" r="11.8"/><circle cx="1537.2" cy="930" r="11.8"/><circle cx="1524" cy="926.3" r="11.8"/><circle cx="1517.3" cy="924.1" r="11.8"/><circle cx="1510.7" cy="923.8" r="11.8"/><circle cx="1504.1" cy="928.2" r="11.8"/><circle cx="1497.5" cy="930.6" r="11.8"/><circle cx="1490.9" cy="931.7" r="11.8"/><circle cx="1484.2" cy="935.6" r="11.8"/><circle cx="1477.6" cy="938.8" r="11.8"/><circle cx="1471" cy="940.7" r="11.8"/><circle cx="1469.7" cy="941.1" r="11.8"/><circle cx="1466.4" cy="942.6" r="11.8"/><circle cx="1463" cy="944.8" r="11.8"/><circle cx="1459.7" cy="946.9" r="11.8"/><circle cx="1456.4" cy="949.1" r="11.8"/><circle cx="1453.1" cy="950.9" r="11.8"/><circle cx="1449.8" cy="952.3" r="11.8"/><circle cx="1446.5" cy="953.8" r="11.8"/><circle cx="1443.2" cy="955.3" r="11.8"/><circle cx="1439.9" cy="957.3" r="11.8"/><circle cx="1436.5" cy="959.4" r="11.8"/><circle cx="1433.2" cy="960.5" r="11.8"/><circle cx="1429.9" cy="964.6" r="11.8"/><circle cx="1426.6" cy="963.1" r="11.8"/><circle cx="1423.3" cy="967.1" r="11.8"/>
</g>
</g>
<rect x="1418" y="698" width="397.4" height="481.5" fill="none" stroke="#000" stroke-width="3"/>
<text transform="translate(1616.7 1272) scale(0.972 1)" text-anchor="middle">Temperature (K)</text>
<path d="M195.7 1911.8L195.7 1895.3M359.2 1911.8L359.2 1895.3M522.7 1911.8L522.7 1895.3M686.1 1911.8L686.1 1895.3M277.5 1911.8L277.5 1903.3M440.9 1911.8L440.9 1903.3M604.4 1911.8L604.4 1903.3M767.9 1911.8L767.9 1903.3" stroke="#000" stroke-width="2.8" fill="none"/>
<path d="M212 1416L212 1432.5M380.9 1416L380.9 1432.5M718.7 1416L718.7 1432.5M155.7 1416L155.7 1424.5M284.4 1416L284.4 1424.5M516 1416L516 1424.5" stroke="#000" stroke-width="2.8" fill="none"/>
<path d="M114 1873.7L130.5 1873.7M849.6 1873.7L833.1 1873.7M114 1797.4L130.5 1797.4M849.6 1797.4L833.1 1797.4M114 1721.1L130.5 1721.1M849.6 1721.1L833.1 1721.1M114 1644.8L130.5 1644.8M849.6 1644.8L833.1 1644.8M114 1568.6L130.5 1568.6M849.6 1568.6L833.1 1568.6M114 1492.3L130.5 1492.3M849.6 1492.3L833.1 1492.3M114 1835.5L122.5 1835.5M849.6 1835.5L841.1 1835.5M114 1759.2L122.5 1759.2M849.6 1759.2L841.1 1759.2M114 1683L122.5 1683M849.6 1683L841.1 1683M114 1606.7L122.5 1606.7M849.6 1606.7L841.1 1606.7M114 1530.4L122.5 1530.4M849.6 1530.4L841.1 1530.4M114 1454.1L122.5 1454.1M849.6 1454.1L841.1 1454.1" stroke="#000" stroke-width="2.8" fill="none"/>
<text transform="translate(94.5 1881.5) scale(0.955 1)" text-anchor="end">0.0</text>
<text transform="translate(94.5 1805.2) scale(0.955 1)" text-anchor="end">0.2</text>
<text transform="translate(94.5 1728.9) scale(0.955 1)" text-anchor="end">0.4</text>
<text transform="translate(94.5 1652.6) scale(0.955 1)" text-anchor="end">0.6</text>
<text transform="translate(94.5 1576.4) scale(0.955 1)" text-anchor="end">0.8</text>
<text transform="translate(94.5 1500.1) scale(0.955 1)" text-anchor="end">1.0</text>
<text transform="translate(94.5 1423.8) scale(0.955 1)" text-anchor="end">1.2</text>
<g clip-path="url(#cg)">
<line x1="273.4" y1="1416" x2="273.4" y2="1911.8" stroke="#000" stroke-width="2.6" stroke-linecap="round" stroke-dasharray="0.01 3.5"/>
<line x1="325.6" y1="1416" x2="325.6" y2="1911.8" stroke="#24247a" stroke-width="2.4" stroke-linecap="round" stroke-dasharray="0.01 3.5"/>
<polyline points="113.8,1865.2 115,1869 120,1887.7 126.3,1854 133.8,1887.7 140,1864 146.3,1880.2 157.5,1827.7 165.5,1911.5 171.3,1854 176.3,1876.5 186.3,1834 193,1882.7 199.3,1845.2 205.1,1862.7 208.8,1837.7 213.8,1846.5 220.1,1822.7 224.3,1820.2 229.3,1802.7 235.1,1817.7 238.8,1783.9 243.8,1767.7 250.1,1747.7 254.6,1727.7 257.6,1740.2 262.1,1742.7 265.1,1707.6 268.1,1675.1 271.3,1652.6 274.3,1645.1 278.1,1610.1 281.3,1570.1 283.8,1527.6 287.1,1492.5 290.6,1505 293.8,1525.1 296.3,1555.1 299.6,1590.1 302.6,1600.1 305.6,1620.1 308.1,1652.6 311.4,1690.1 314.6,1735.2 317.1,1753.9 321.4,1752.7 324.4,1775.2 326.4,1810.2 330.1,1825.2 335.1,1821.5 338.9,1845.2 342.6,1867.7 346.4,1882.7 350.1,1862.7 353.1,1845.2 356.4,1855.2 360.1,1867.7 364.4,1837.7 368.9,1850.2 372.6,1852.7 377.1,1861.5 383.9,1850.2 387.6,1867.7 392.6,1899 398.9,1867.7 404.7,1845.2 408.9,1860.2 415.2,1836.5 418.9,1840.2 420,1857.6 425,1867.6 430,1906.4 436.3,1867.6 443.8,1863.9 447.5,1852.6 455,1888.9 461.3,1860.1 466.3,1856.3 472.5,1860.1 480,1896.4 486.3,1847.6 490,1853.8 495,1860.1 502.5,1880.1 508.8,1895.1 516.3,1872.6 523.8,1848.8 531.3,1902.6 537.6,1877.6 542.6,1867.6 547.6,1852.6 552.6,1851.3 557.6,1840.1 562.6,1858.8 567.6,1850.1 571.3,1860.1 576.3,1843.8 580.1,1857.6 586.3,1895.1 592.6,1841.3 597.6,1857.6 600.1,1847.6 605.1,1848.8 612.6,1892.6 618.8,1857.6 626.4,1897.6 633.9,1825.1 640.1,1875.1 642.6,1857.6 648.9,1897.6 655.1,1848.8 658.9,1862.6 663.9,1861.4 672.6,1882.6 680.1,1868.9 685.1,1870.1 690.1,1882.6 696.4,1843.8 702.6,1908.9 706.4,1853.8 711.4,1866.4 717.6,1833.8 725.2,1895.1 727.7,1877.6 733.9,1900.1 743.9,1852.6 750.2,1893.9 755.2,1886.4 762.7,1857.6 770.2,1841.3 776.4,1860.1 780.2,1851.3 786.4,1845.1 795.2,1867.6 802.7,1852.6 810.2,1875.1 817.7,1872.6 824,1896.4 831.5,1858.8 835.2,1861.4 839,1860.1 844,1867.1 849,1865.6" fill="none" stroke="#ff0000" stroke-width="5" stroke-linejoin="round"/>
<path d="M113.8 1872.2C117.7 1872.1 130.2 1871.8 137.5 1871.5C144.8 1871.1 151.3 1870.9 157.5 1870.2C163.8 1869.6 169.2 1869.7 175.0 1867.7C180.9 1865.7 187.5 1861.1 192.5 1858.2C197.5 1855.3 201.5 1852.8 205.1 1850.2C208.6 1847.6 210.5 1846.5 213.8 1842.7C217.1 1839.0 221.5 1833.1 225.1 1827.7C228.6 1822.3 231.7 1818.5 235.1 1810.2C238.4 1801.9 241.7 1790.2 245.1 1777.7C248.4 1765.2 252.2 1748.9 255.1 1735.2C258.0 1721.4 260.2 1710.1 262.6 1695.1C264.9 1680.1 267.2 1660.1 269.1 1645.1C271.0 1630.1 272.2 1618.4 273.8 1605.1C275.5 1591.8 277.1 1577.4 278.8 1565.1C280.5 1552.8 282.4 1538.9 284.1 1531.3C285.8 1523.7 287.1 1519.8 288.8 1519.5C290.6 1519.3 293.0 1524.6 294.6 1530.1C296.2 1535.6 297.1 1542.6 298.6 1552.6C300.1 1562.6 301.9 1575.9 303.6 1590.1C305.3 1604.3 307.0 1620.9 308.6 1637.6C310.2 1654.3 311.8 1673.0 313.4 1690.1C314.9 1707.2 316.6 1724.7 318.1 1740.2C319.7 1755.6 321.2 1770.6 322.6 1782.7C324.0 1794.8 324.9 1803.1 326.4 1812.7C327.8 1822.3 329.5 1832.7 331.4 1840.2C333.2 1847.7 335.3 1853.1 337.6 1857.7C339.9 1862.3 342.6 1865.4 345.1 1867.7C347.6 1870.0 349.7 1870.6 352.6 1871.5C355.5 1872.4 358.9 1872.9 362.6 1873.2C366.4 1873.6 370.6 1873.5 375.1 1873.6C379.7 1873.7 381.0 1873.7 390.1 1873.7C399.3 1873.7 416.8 1873.7 430.1 1873.7C443.5 1873.7 456.8 1873.7 470.1 1873.7C483.5 1873.7 496.8 1873.7 510.1 1873.7C523.5 1873.7 536.8 1873.7 550.1 1873.7C563.5 1873.7 576.8 1873.7 590.1 1873.7C603.5 1873.7 616.8 1873.7 630.1 1873.7C643.5 1873.7 656.8 1873.7 670.1 1873.7C683.5 1873.7 696.8 1873.7 710.1 1873.7C723.5 1873.7 736.8 1873.7 750.1 1873.7C763.5 1873.7 776.8 1873.7 790.1 1873.7C803.5 1873.7 820.2 1873.7 830.1 1873.7C840.0 1873.7 846.4 1873.7 849.6 1873.7" fill="none" stroke="#3ec68a" stroke-width="4.4" stroke-dasharray="12 6.5"/>
</g>
<rect x="114" y="1416" width="735.6" height="495.8" fill="none" stroke="#000" stroke-width="3"/>
<text transform="translate(195.7 1954) scale(0.955 1)" text-anchor="middle">0.3</text>
<text transform="translate(359.2 1954) scale(0.955 1)" text-anchor="middle">0.4</text>
<text transform="translate(522.7 1954) scale(0.955 1)" text-anchor="middle">0.5</text>
<text transform="translate(686.1 1954) scale(0.955 1)" text-anchor="middle">0.6</text>
<text transform="translate(849.6 1954) scale(0.955 1)" text-anchor="middle">0.7</text>
<text transform="translate(212 1397) scale(0.955 1)" text-anchor="middle">4</text>
<text transform="translate(380.9 1397) scale(0.955 1)" text-anchor="middle">3</text>
<text transform="translate(718.7 1397) scale(0.955 1)" text-anchor="middle">2</text>
<text transform="translate(481.8 1995) scale(0.972 1)" text-anchor="middle">Energy (eV)</text>
<text transform="translate(481.8 1346.3) scale(0.972 1)" text-anchor="middle">Wavelength (<tspan class="sy">μ</tspan>m)</text>
<text transform="translate(39 1663.9) rotate(-90) scale(0.954 1)" text-anchor="middle" style="font-size:30.4px">Normalized PL Intensity</text>
<text transform="translate(379 1460.2) scale(0.970 1)" style="font-size:29.8px;font-weight:bold">Experimental parameters:</text>
<text transform="translate(485 1496.7) scale(0.950 1)">T:</text>
<text transform="translate(692.2 1496.7) scale(0.950 1)">80K</text>
<text transform="translate(485 1535.5) scale(0.950 1)">ExDens :</text>
<text transform="translate(692.2 1535.5) scale(0.950 1)">45 W/cm<tspan style="font-size:18.5px" dy="-11.5">2</tspan></text>
<text transform="translate(379 1609) scale(0.970 1)" style="font-size:29.8px;font-weight:bold">LSW Fitting results:</text>
<text transform="translate(485 1645) scale(0.950 1)">T<tspan style="font-size:20.2px" dy="8.3">electron</tspan><tspan dy="-8.3">:</tspan></text>
<text transform="translate(692.2 1645) scale(0.950 1)">88K</text>
<text transform="translate(485 1691.9) scale(0.950 1)"><tspan class="sy">γ</tspan>:</text>
<text transform="translate(692.2 1691.9) scale(0.950 1)">27meV</text>
<text transform="translate(485 1727.2) scale(0.950 1)">BG:</text>
<text transform="translate(692.2 1727.2) scale(0.950 1)">0.348eV</text>
<text transform="translate(485 1766.7) scale(0.950 1)"><tspan class="sy">Δμ</tspan>-BG:</text>
<text transform="translate(692.2 1766.7) scale(0.950 1)">32meV</text>
<text transform="translate(61.4 24.6) scale(1.170 1)" style="font-size:30.5px" class="pl">a</text>
<text transform="translate(708.6 24.6) scale(1.200 1)" style="font-size:30.5px" class="pl">b</text>
<text transform="translate(1358.3 24.6) scale(1.220 1)" style="font-size:30.5px" class="pl">c</text>
<text transform="translate(61.3 670.9) scale(1.170 1)" style="font-size:30.5px" class="pl">d</text>
<text transform="translate(709.1 670.9) scale(1.270 1)" style="font-size:30.5px" class="pl">e</text>
<text transform="translate(1358.3 670.9) scale(1.150 1)" style="font-size:30.5px" class="pl">f</text>
<text transform="translate(61 1379) scale(1.200 1)" style="font-size:30.5px" class="pl">g</text>
</svg></body></html>
